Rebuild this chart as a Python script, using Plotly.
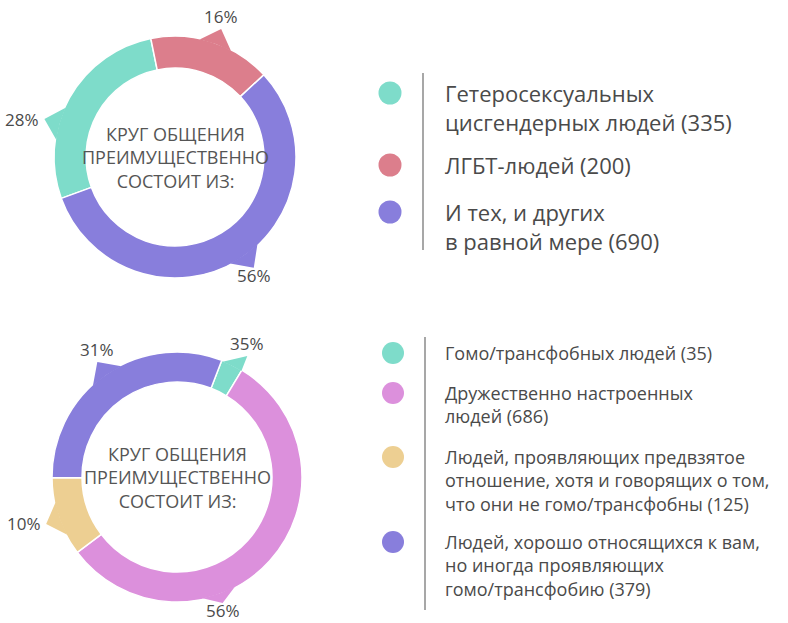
import math
import plotly.graph_objects as go

# ---------------- data ----------------
chart1_labels = [
    "Гетеросексуальных<br>цисгендерных людей",
    "ЛГБТ-людей",
    "И тех, и других<br>в равной мере",
]
chart1_counts = [335, 200, 690]
chart1_pct_text = ["28%", "16%", "56%"]
chart1_colors = ["#7EDCCA", "#DC7E8C", "#887EDC"]

chart2_labels = [
    "Гомо/трансфобных людей",
    "Дружественно настроенных<br>людей",
    "Людей, проявляющих предвзятое<br>отношение, хотя и говорящих о том,<br>что они не гомо/трансфобны",
    "Людей, хорошо относящихся к вам,<br>но иногда проявляющих<br>гомо/трансфобию",
]
chart2_counts = [35, 686, 125, 379]
chart2_pct_text = ["35%", "56%", "10%", "31%"]
chart2_colors = ["#7EDCCA", "#DC90DC", "#EDCF92", "#887EDC"]

center_title = "КРУГ ОБЩЕНИЯ<br>ПРЕИМУЩЕСТВЕННО<br>СОСТОИТ ИЗ:"

# ---------------- layout constants ----------------
W, H = 788, 623
FONT = "Open Sans"
TXT = "#4a4a4a"

charts = [
    dict(labels=chart1_labels, counts=chart1_counts, pct=chart1_pct_text, colors=chart1_colors,
         cx=175, cy=157, R=121, hole=0.735, rotation=250,
         label_offsets=[-13, 2, -4], tab_len=[15, 15, 15],
         leg_dot_x=390, leg_line_x=423, leg_line_y=(73, 250), leg_text_x=443,
         leg_first_y=[93, 165, 212], leg_font=22, dot_r=11.5),
    dict(labels=chart2_labels, counts=chart2_counts, pct=chart2_pct_text, colors=chart2_colors,
         cx=177, cy=477, R=125, hole=0.76, rotation=21,
         label_offsets=[4, 28, -1, 0], tab_len=[15, 9, 14, 15],
         leg_dot_x=393, leg_line_x=425, leg_line_y=(337, 610), leg_text_x=443,
         leg_first_y=[353, 393, 457, 542], leg_font=18, dot_r=11),
]


def px(x):
    return x / W


def py(y):
    return 1 - y / H


def polar(cx, cy, r, ang):
    a = math.radians(ang)
    return cx + r * math.sin(a), cy - r * math.cos(a)


fig = go.Figure()
shapes = []
annotations = []

for c in charts:
    cx, cy, R = c["cx"], c["cy"], c["R"]
    fig.add_trace(go.Pie(
        values=c["counts"],
        labels=[l.replace("<br>", " ") for l in c["labels"]],
        marker=dict(colors=c["colors"], line=dict(color="white", width=1.5)),
        hole=c["hole"], sort=False, direction="clockwise", rotation=c["rotation"],
        textinfo="none", hoverinfo="label+value", showlegend=False,
        domain=dict(x=[px(cx - R), px(cx + R)], y=[py(cy + R), py(cy - R)]),
    ))
    # center title
    annotations.append(dict(x=px(cx), y=py(cy), xref="paper", yref="paper", text=center_title,
                            showarrow=False, font=dict(family=FONT, size=18, color="#555555"),
                            align="center", xanchor="center", yanchor="middle"))
    total = sum(c["counts"])
    cum = 0
    for i, v in enumerate(c["counts"]):
        start = c["rotation"] + 360 * cum / total
        end = c["rotation"] + 360 * (cum + v) / total
        mid = (start + end) / 2
        cum += v
        lab_ang = mid + c["label_offsets"][i]
        # pointer tab
        half = min(8.0, (end - start) / 2 - 0.3)
        base_c = min(max(lab_ang, start + half), end - half)
        p1 = polar(cx, cy, R - 1, base_c - half)
        p2 = polar(cx, cy, R - 1, base_c + half)
        pm = polar(cx, cy, R - 1, base_c)
        tip = polar(cx, cy, R + c["tab_len"][i], lab_ang)
        path = "M {} {} L {} {} L {} {} L {} {} Z".format(
            px(p1[0]), py(p1[1]), px(tip[0]), py(tip[1]), px(p2[0]), py(p2[1]), px(pm[0]), py(pm[1]))
        shapes.append(dict(type="path", xref="paper", yref="paper", path=path,
                           fillcolor=c["colors"][i], line=dict(width=0), layer="above"))
        s, co = math.sin(math.radians(lab_ang)), math.cos(math.radians(lab_ang))
        xa = "left" if s > 0.7 else ("right" if s < -0.7 else "center")
        ya = "bottom" if co > 0.5 else ("top" if co < -0.5 else "middle")
        lx, ly = tip[0], tip[1]
        if ya == "bottom":
            ly += 1
        elif ya == "top":
            ly -= 6
        else:
            lx += 3 * (1 if s > 0 else -1)
        annotations.append(dict(x=px(lx), y=py(ly), xref="paper", yref="paper", text=c["pct"][i],
                                showarrow=False, font=dict(family=FONT, size=17, color=TXT),
                                xanchor=xa, yanchor=ya))
    # legend
    shapes.append(dict(type="line", xref="paper", yref="paper",
                       x0=px(c["leg_line_x"]), x1=px(c["leg_line_x"]),
                       y0=py(c["leg_line_y"][0]), y1=py(c["leg_line_y"][1]),
                       line=dict(color="#8a8a8a", width=1.5)))
    fs = c["leg_font"]
    for i, lab in enumerate(c["labels"]):
        y0 = c["leg_first_y"][i]
        r = c["dot_r"]
        shapes.append(dict(type="circle", xref="paper", yref="paper",
                           x0=px(c["leg_dot_x"] - r), x1=px(c["leg_dot_x"] + r),
                           y0=py(y0 + r), y1=py(y0 - r),
                           fillcolor=c["colors"][i], line=dict(width=0)))
        nlines = lab.count("<br>") + 1
        yc = y0 + (nlines - 1) * fs * 1.3 / 2
        annotations.append(dict(x=px(c["leg_text_x"]), y=py(yc), xref="paper", yref="paper",
                                text=f"{lab} ({c['counts'][i]})", showarrow=False, align="left",
                                font=dict(family=FONT, size=fs, color=TXT),
                                xanchor="left", yanchor="middle"))

fig.update_layout(
    width=W, height=H, margin=dict(l=0, r=0, t=0, b=0),
    paper_bgcolor="white", plot_bgcolor="white",
    shapes=shapes, annotations=annotations, showlegend=False,
)
fig.write_html("out.html", config={"displayModeBar": False},
               post_script="document.body.style.margin='0px';")
